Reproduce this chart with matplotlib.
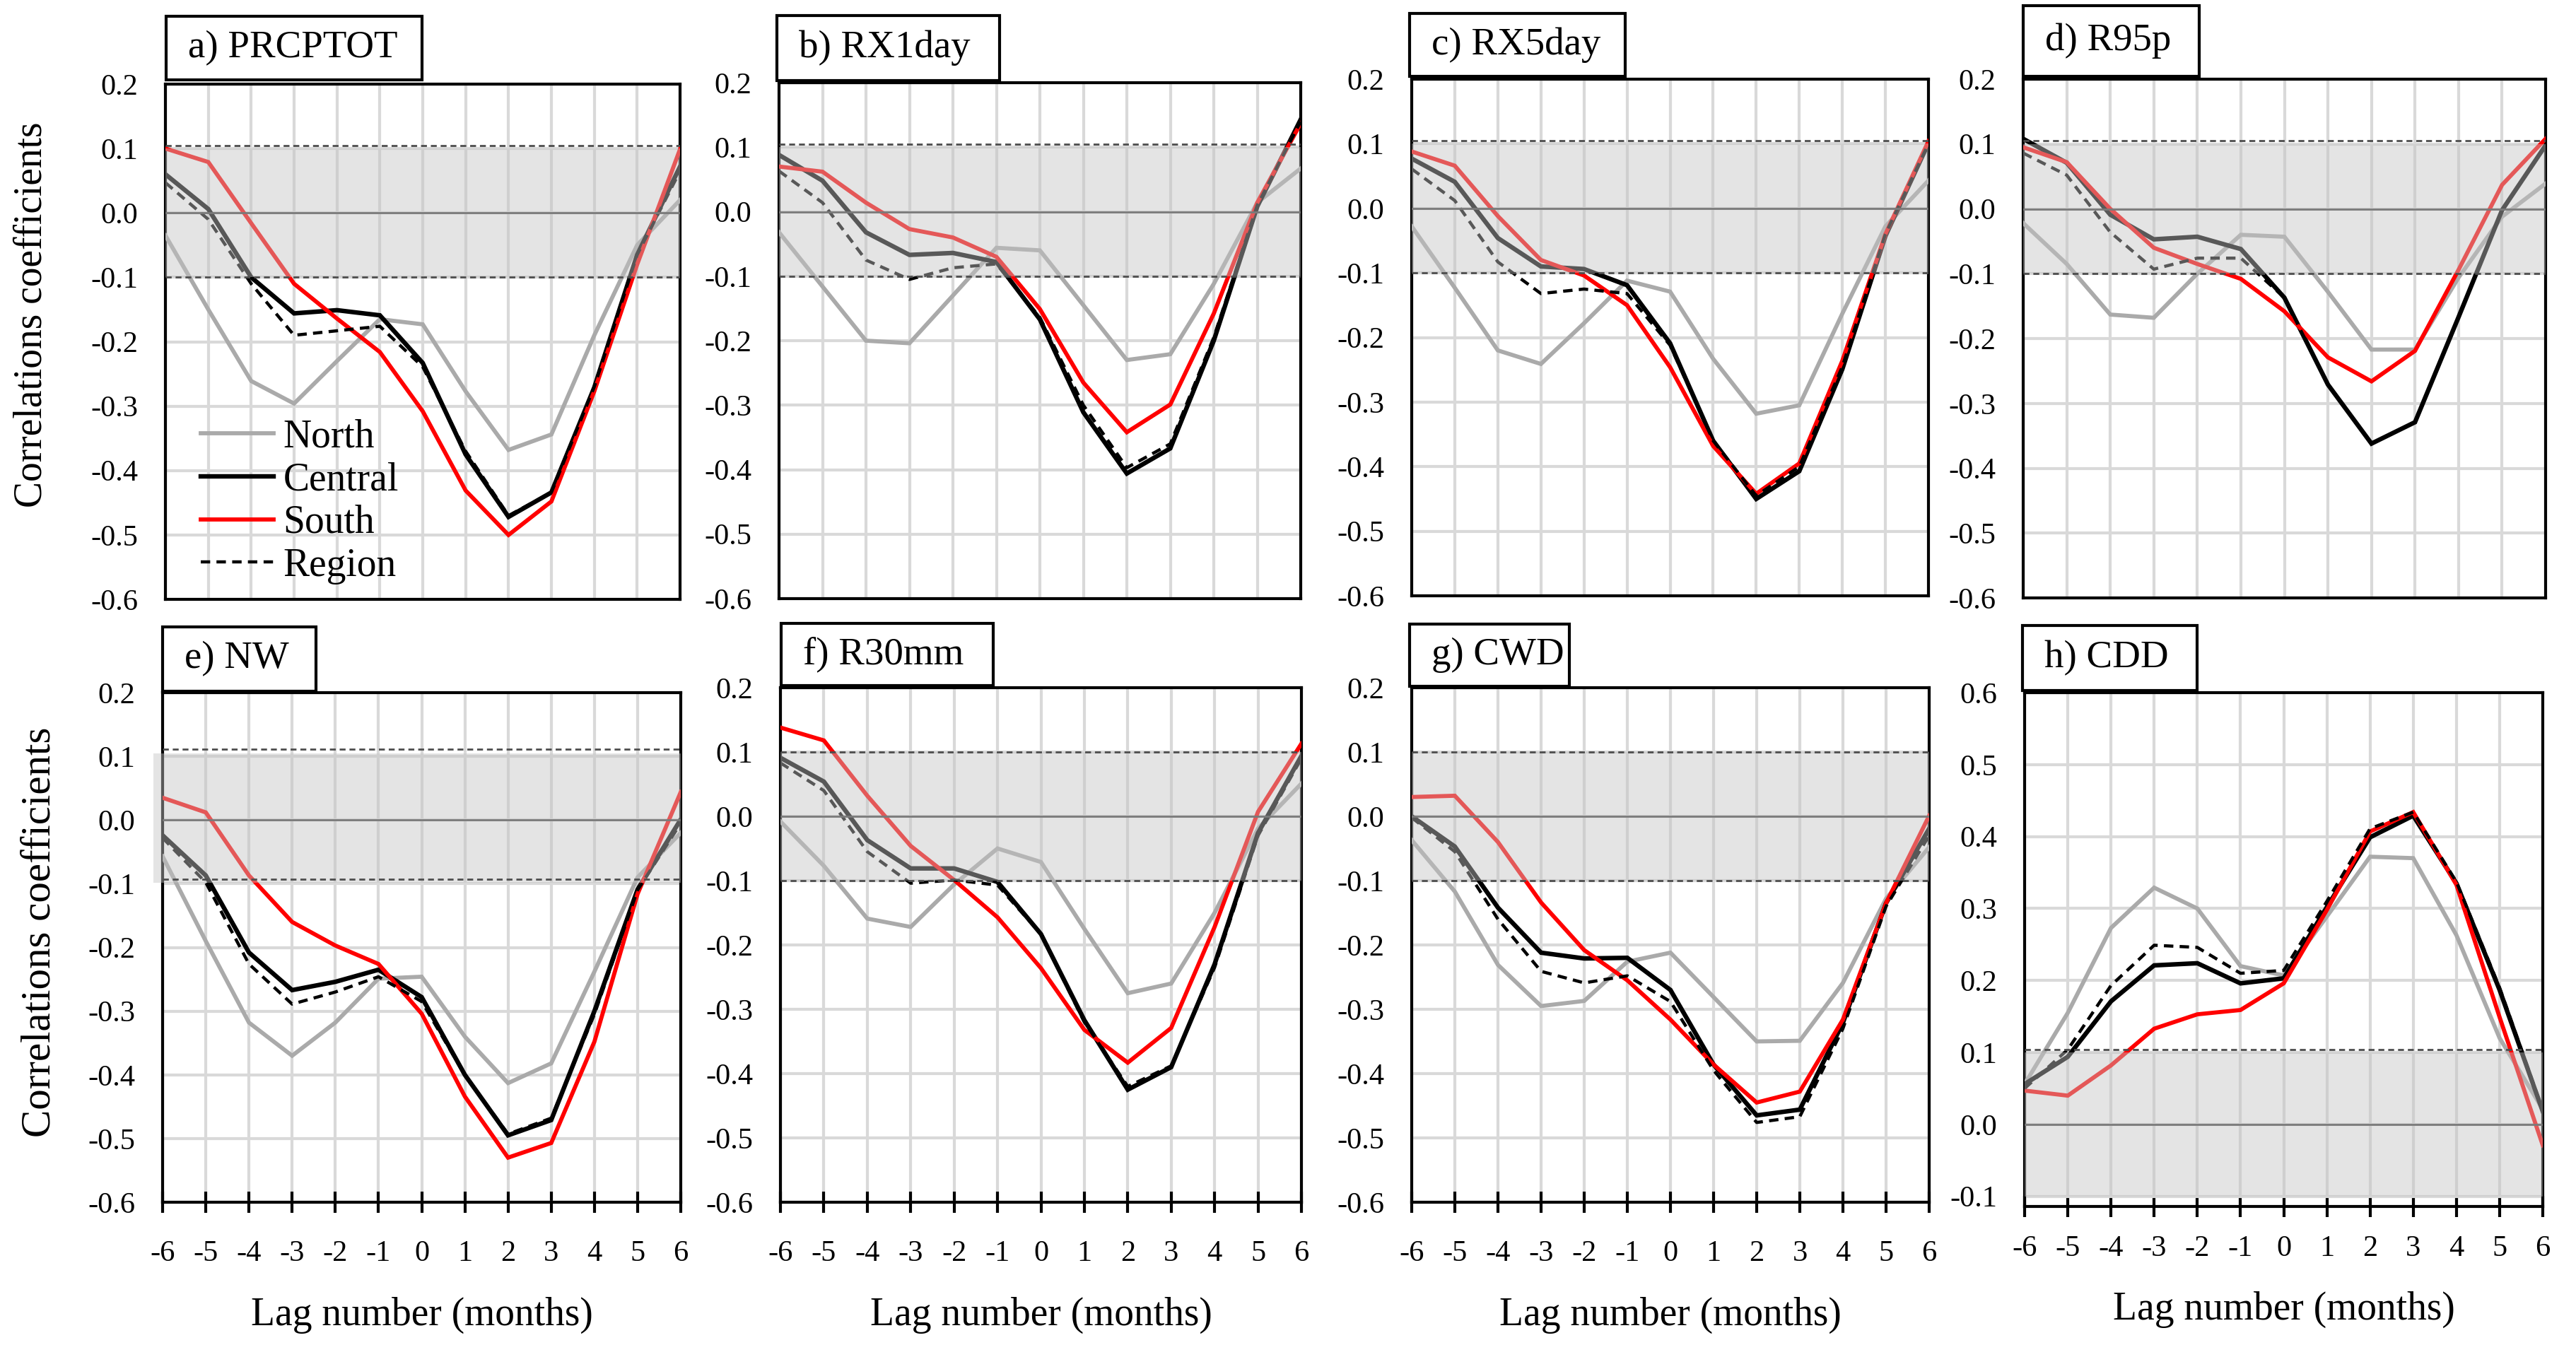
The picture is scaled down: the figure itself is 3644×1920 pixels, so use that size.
import matplotlib
matplotlib.use("Agg")
import matplotlib.pyplot as plt
from matplotlib.patches import Rectangle

plt.rcParams['font.family'] = ['Liberation Serif', 'DejaVu Serif']
plt.rcParams['axes.unicode_minus'] = False

W, H = 3644, 1920

lags = list(range(-6, 7))
labels = ["a) PRCPTOT", "b) RX1day", "c) RX5day", "d) R95p",
          "e) NW", "f) R30mm", "g) CWD", "h) CDD"]
series_names = ["North", "Central", "South", "Region"]

a_north = [-0.035, -0.15, -0.261, -0.296, -0.23, -0.165, -0.173, -0.277, -0.368, -0.344, -0.19, -0.05, 0.02]
a_central = [0.06, 0.006, -0.1, -0.156, -0.151, -0.159, -0.233, -0.375, -0.472, -0.434, -0.271, -0.065, 0.072]
a_south = [0.1, 0.079, -0.016, -0.11, -0.164, -0.216, -0.308, -0.431, -0.5, -0.448, -0.277, -0.08, 0.099]
a_region = [0.047, -0.01, -0.11, -0.19, -0.183, -0.176, -0.239, -0.37, -0.47, -0.434, -0.27, -0.065, 0.065]

b_north = [-0.032, -0.116, -0.2, -0.204, -0.13, -0.056, -0.06, -0.145, -0.23, -0.221, -0.112, 0.014, 0.067]
b_central = [0.088, 0.048, -0.032, -0.067, -0.064, -0.078, -0.167, -0.311, -0.406, -0.367, -0.2, 0.008, 0.143]
b_south = [0.07, 0.062, 0.014, -0.027, -0.04, -0.07, -0.151, -0.265, -0.342, -0.299, -0.158, 0.014, 0.137]
b_region = [0.063, 0.014, -0.075, -0.105, -0.087, -0.081, -0.164, -0.3, -0.397, -0.36, -0.195, 0.01, 0.14]

c_north = [-0.028, -0.123, -0.22, -0.241, -0.178, -0.112, -0.129, -0.233, -0.318, -0.305, -0.163, -0.028, 0.043]
c_central = [0.077, 0.041, -0.046, -0.09, -0.094, -0.119, -0.209, -0.36, -0.45, -0.407, -0.249, -0.043, 0.101]
c_south = [0.088, 0.066, -0.012, -0.08, -0.104, -0.15, -0.246, -0.368, -0.442, -0.395, -0.236, -0.04, 0.104]
c_region = [0.061, 0.012, -0.083, -0.132, -0.125, -0.132, -0.212, -0.36, -0.445, -0.4, -0.245, -0.04, 0.1]

d_north = [-0.022, -0.085, -0.163, -0.168, -0.1, -0.04, -0.043, -0.128, -0.217, -0.217, -0.106, -0.012, 0.039]
d_central = [0.108, 0.071, -0.009, -0.047, -0.043, -0.062, -0.137, -0.271, -0.362, -0.329, -0.167, -0.002, 0.098]
d_south = [0.095, 0.072, 0.0, -0.06, -0.085, -0.108, -0.158, -0.229, -0.266, -0.219, -0.094, 0.037, 0.108]
d_region = [0.086, 0.052, -0.036, -0.093, -0.076, -0.076, -0.137, -0.271, -0.362, -0.329, -0.167, -0.002, 0.098]

e_north = [-0.057, -0.19, -0.318, -0.37, -0.318, -0.249, -0.246, -0.34, -0.413, -0.382, -0.238, -0.09, -0.02]
e_central = [-0.024, -0.087, -0.208, -0.267, -0.254, -0.235, -0.278, -0.4, -0.495, -0.471, -0.3, -0.109, 0.001]
e_south = [0.035, 0.012, -0.087, -0.16, -0.197, -0.226, -0.304, -0.434, -0.53, -0.507, -0.348, -0.116, 0.044]
e_region = [-0.028, -0.098, -0.226, -0.289, -0.27, -0.246, -0.285, -0.4, -0.493, -0.468, -0.305, -0.11, -0.005]

f_north = [-0.008, -0.077, -0.159, -0.172, -0.106, -0.05, -0.071, -0.175, -0.275, -0.26, -0.15, -0.019, 0.051]
f_central = [0.091, 0.054, -0.037, -0.081, -0.081, -0.102, -0.183, -0.317, -0.425, -0.39, -0.23, -0.026, 0.094]
f_south = [0.138, 0.118, 0.032, -0.046, -0.099, -0.157, -0.236, -0.332, -0.383, -0.329, -0.172, 0.007, 0.113]
f_region = [0.083, 0.04, -0.055, -0.104, -0.099, -0.107, -0.183, -0.32, -0.42, -0.388, -0.235, -0.03, 0.09]

g_north = [-0.037, -0.117, -0.231, -0.295, -0.287, -0.226, -0.212, -0.281, -0.35, -0.349, -0.259, -0.128, -0.048]
g_central = [0.0, -0.047, -0.142, -0.212, -0.221, -0.22, -0.27, -0.386, -0.465, -0.456, -0.321, -0.135, -0.019]
g_south = [0.03, 0.032, -0.04, -0.134, -0.208, -0.255, -0.316, -0.386, -0.445, -0.428, -0.316, -0.135, 0.001]
g_region = [-0.002, -0.055, -0.16, -0.241, -0.259, -0.248, -0.288, -0.395, -0.476, -0.467, -0.33, -0.14, -0.03]

h_north = [0.056, 0.155, 0.273, 0.329, 0.3, 0.22, 0.207, 0.289, 0.372, 0.37, 0.263, 0.12, 0.021]
h_central = [0.056, 0.094, 0.171, 0.221, 0.224, 0.196, 0.203, 0.302, 0.399, 0.429, 0.335, 0.187, 0.018]
h_south = [0.047, 0.04, 0.082, 0.133, 0.153, 0.159, 0.196, 0.298, 0.407, 0.434, 0.333, 0.149, -0.029]
h_region = [0.05, 0.104, 0.193, 0.249, 0.246, 0.21, 0.214, 0.31, 0.411, 0.434, 0.337, 0.19, 0.02]

panel_data = [
    (a_north, a_central, a_south, a_region),
    (b_north, b_central, b_south, b_region),
    (c_north, c_central, c_south, c_region),
    (d_north, d_central, d_south, d_region),
    (e_north, e_central, e_south, e_region),
    (f_north, f_central, f_south, f_region),
    (g_north, g_central, g_south, g_region),
    (h_north, h_central, h_south, h_region),
]

# layout in pixels: axes (left, top, right, bottom), title box (x0, y0, x1, y1)
AX_PX = [(234, 119, 962, 848), (1102, 117, 1840, 847), (1997, 112, 2728, 843),
         (2862, 112, 3601, 846), (230, 980, 963, 1701), (1104, 973, 1841, 1701),
         (1997, 973, 2729, 1701), (2864, 980, 3597, 1707)]
BOX_PX = [(235, 23, 597, 113), (1099, 22, 1414, 114), (1994, 19, 2299, 108),
          (2862, 8, 3111, 108), (230, 887, 447, 978), (1105, 882, 1405, 970),
          (1994, 883, 2220, 971), (2861, 885, 3108, 977)]
# significance band (fill lo, fill hi, dashed lo, dashed hi)
BANDS = [(-0.1, 0.1, -0.1, 0.105)] * 4 + [(-0.098, 0.105, -0.093, 0.111),
                                          (-0.1, 0.1, -0.1, 0.1),
                                          (-0.1, 0.1, -0.1, 0.1),
                                          (-0.1, 0.1, None, 0.104)]
BAND_XMIN = [0, 0, 0, 0, -0.018, 0, 0, 0]
XLAB_PX = [None] * 4 + [160, 160, 160, 146]
XPAD = [None] * 4 + [28, 28, 28, 19]

STYLES = [dict(color="#aaaaaa", lw=4.2, ls="-"),
          dict(color="black", lw=4.6, ls="-"),
          dict(color="#ff0000", lw=4.2, ls="-"),
          dict(color="black", lw=3.2, ls=(0, (3, 2)))]

fig = plt.figure(figsize=(W / 100, H / 100), dpi=100)

for i in range(8):
    l, t, r, b = AX_PX[i]
    ax = fig.add_axes([l / W, 1 - b / H, (r - l) / W, (b - t) / H])
    bottom_row = i >= 4
    if i == 7:
        ylo, yhi = -0.114, 0.6
        yt = [k / 10 for k in range(-1, 7)]
    else:
        ylo, yhi = -0.6, 0.2
        yt = [k / 10 for k in range(-6, 3)]
    ax.set_xlim(-6, 6)
    ax.set_ylim(ylo, yhi)
    ax.set_yticks(yt)
    ax.set_yticklabels([f"{v:.1f}" for v in yt])
    ax.set_xticks(lags)
    ax.grid(True, color="#d9d9d9", lw=3, zorder=0)
    ax.set_axisbelow(True)
    for s in ax.spines.values():
        s.set_linewidth(3)
        s.set_color("black")
    ax.tick_params(axis="y", length=0, pad=28, labelsize=30.5)
    if bottom_row:
        ax.tick_params(axis="x", direction="inout", length=21, width=3,
                       pad=XPAD[i], labelsize=30.5)
        ax.set_xticklabels([str(v) for v in lags])
        ax.set_xlabel("Lag number (months)", fontsize=40)
        ax.xaxis.set_label_coords(0.5, -XLAB_PX[i] / (b - t))
        ax.xaxis.label.set_va("center")
    else:
        ax.tick_params(axis="x", length=0, labelbottom=False)

    handles = []
    for vals, name, st in zip(panel_data[i], series_names, STYLES):
        ln, = ax.plot(lags, vals, color=st["color"], lw=st["lw"], ls=st["ls"],
                      label=name, zorder=3, solid_joinstyle="miter")
        handles.append(ln)

    flo, fhi, dlo, dhi = BANDS[i]
    ax.axhspan(flo, fhi, xmin=BAND_XMIN[i], color="#c4c4c4", alpha=0.45,
               lw=0, zorder=4, clip_on=False)
    ax.axhline(0, color="#7a7a7a", lw=2, zorder=5)
    for d in (dlo, dhi):
        if d is not None:
            ax.axhline(d, color="#4d4d4d", lw=2, ls=(0, (3, 2)), zorder=5)

    if i in (0, 4):
        ax.set_ylabel("Correlations coefficients", fontsize=40 if i == 0 else 42.5)
        if i == 0:
            ax.yaxis.set_label_coords((45 - l) / (r - l), (b - 445) / (b - t))
        else:
            ax.yaxis.set_label_coords((57 - l) / (r - l), (b - 1319) / (b - t))
        ax.yaxis.label.set_va("center")
    if i == 0:
        leg = ax.legend(handles=handles, loc="lower left",
                        bbox_to_anchor=(50 / (r - l), 0.029), fontsize=40,
                        frameon=False, handlelength=1.85, handletextpad=0.25,
                        labelspacing=0.16, borderpad=0, borderaxespad=0)
        leg.set_zorder(10)

    x0, y0, x1, y1 = BOX_PX[i]
    fig.add_artist(Rectangle((x0 / W, 1 - y1 / H), (x1 - x0) / W, (y1 - y0) / H,
                             transform=fig.transFigure, facecolor="white",
                             edgecolor="black", lw=3, zorder=10))
    fig.text((x0 + 31) / W, 1 - (y0 + y1) / 2 / H, labels[i], fontsize=39.5,
             ha="left", va="center", zorder=11)

fig.savefig("out.png", dpi=100)
